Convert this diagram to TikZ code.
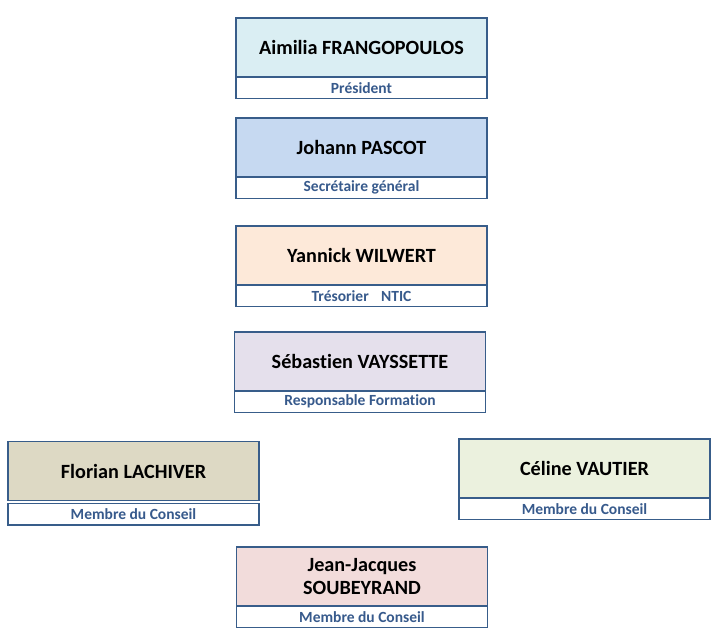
\documentclass[tikz,border=0pt]{standalone}
\usepackage{fontspec}
\setmainfont{Carlito}[Ligatures={NoCommon}]
\usepackage{xcolor}
\usetikzlibrary{positioning}

\definecolor{frame}{RGB}{56,93,138}
\definecolor{roletext}{RGB}{55,90,140}
\definecolor{fillA}{RGB}{218,238,243}
\definecolor{fillB}{RGB}{198,217,241}
\definecolor{fillC}{RGB}{253,233,217}
\definecolor{fillD}{RGB}{229,224,236}
\definecolor{fillE}{RGB}{221,217,196}
\definecolor{fillF}{RGB}{235,241,222}
\definecolor{fillG}{RGB}{242,220,219}

\begin{document}
\begin{tikzpicture}[
x=1pt, y=-1pt,
node distance=0pt,
namebox/.style={draw=frame, line width=1.2pt, align=center, inner sep=0pt, outer sep=0pt,
  minimum width=251pt, minimum height=59pt, font=\fontsize{20.2}{23}\selectfont\bfseries},
rolebox/.style={draw=frame, line width=1.2pt, fill=white, inner sep=0pt, outer sep=0pt,
  minimum width=251pt, minimum height=21.5pt, text=roletext, font=\fontsize{15.5}{17}\selectfont\bfseries}
]
\useasboundingbox (0,0) rectangle (719,638);

\node[namebox, fill=fillA] (aimilia) at (361.5,47.5) {Aimilia FRANGOPOULOS};
\node[rolebox, below=of aimilia] (president) {Président};

\node[namebox, fill=fillB] (johann) at (361.5,147.5) {Johann PASCOT};
\node[rolebox, below=of johann] (secretaire) {Secrétaire général};

\node[namebox, fill=fillC] (yannick) at (361.5,255.5) {Yannick WILWERT};
\node[rolebox, below=of yannick] (tresorier) {Trésorier\hspace{0.8em}NTIC};

\node[namebox, fill=fillD] (sebastien) at (360,361.5) {Sébastien VAYSSETTE};
\node[rolebox, below=of sebastien] (formation) {Responsable Formation};

\node[namebox, fill=fillE] (florian) at (133.5,471) {Florian LACHIVER};
\node[rolebox, below=3pt of florian] (membreA) {Membre du Conseil};

\node[namebox, fill=fillF] (celine) at (584.5,468.5) {Céline VAUTIER};
\node[rolebox, below=of celine] (membreB) {Membre du Conseil};

\node[namebox, fill=fillG] (jeanjacques) at (362,576.5) {Jean-Jacques\\SOUBEYRAND};
\node[rolebox, below=of jeanjacques] (membreC) {Membre du Conseil};
\end{tikzpicture}
\end{document}
